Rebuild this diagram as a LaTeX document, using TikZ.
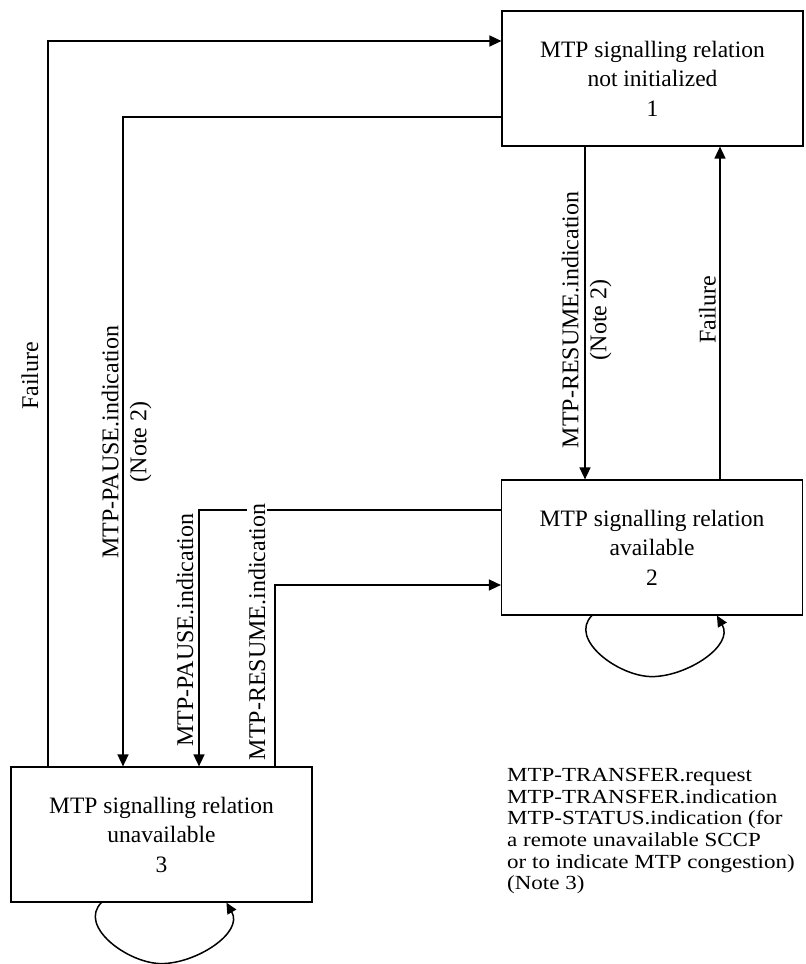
\documentclass[tikz,border=0pt]{standalone}
\usepackage{fontspec}
\setmainfont{Liberation Serif}
\newfontfamily\notefont[FakeStretch=1.15]{Liberation Serif}
\usepackage{tikz}
\usetikzlibrary{arrows.meta}
\tikzset{
    State/.style = {draw,line width=1.2pt,minimum width=301pt,minimum height=135pt,
        inner sep=0pt,align=center,font=\fontsize{23.5}{29.5}\selectfont},
    Label/.style = {rotate=90,align=center,inner sep=2pt,font=\fontsize{24}{28}\selectfont},
    Arrow/.style = {line width=1.5pt,-{Triangle[length=12pt,width=11pt]}},
    SelfLoop/.style = {line width=1.5pt,-{Triangle[length=11pt,width=10pt]}}
}

\begin{document}
\begin{tikzpicture}[x=1pt,y=1pt]
        \useasboundingbox (0,0) rectangle (806,964);
        \node[State] (Init) at (652.5,885.5) {MTP signalling relation\\not initialized\\1};
        \node[State] (Avail) at (652,416.5) {MTP signalling relation\\available\\2};
        \node[State] (Unavail) at (161.5,129.5) {MTP signalling relation\\unavailable\\3};
        \draw[Arrow] (Unavail.north -| 48,0) |- (Init.west |- 0,923);
        \draw[Arrow] (Init.west |- 0,847) -| (Unavail.north -| 123,0);
        \draw[Arrow] (Avail.west |- 0,454) -| (Unavail.north -| 199,0);
        \draw[Arrow] (Unavail.north -| 275,0) |- (Avail.west |- 0,379);
        \draw[Arrow] (Init.south -| 585,0) -- (Avail.north -| 585,0);
        \draw[Arrow] (Avail.north -| 720,0) -- (Init.south -| 720,0);
        \foreach \S in {Avail,Unavail}
            {\draw[SelfLoop] ([xshift=91pt]\S.south west) to[out=225,in=180]
                ([xshift=151pt,yshift=-61pt]\S.south west) to[out=0,in=-60]
                ([xshift=216pt]\S.south west);}
        \node[Label] (FailLeft) at (30,588) {Failure};
        \node[Label] (PauseNote) at (126.5,522) {MTP-PAUSE.indication\\(Note 2)};
        \node[Label] (Pause) at (185,334) {MTP-PAUSE.indication};
        \node[Label,fill=white] (Resume) at (257,332) {MTP-RESUME.indication};
        \node[Label] (ResumeNote) at (586.5,644) {MTP-RESUME.indication\\(Note 2)};
        \node[Label] (FailRight) at (707.5,654) {Failure};
        \node[anchor=north west,align=left,inner sep=0pt,font=\notefont\fontsize{20}{21.7}\selectfont]
            (Note) at (507,196) {MTP-TRANSFER.request\\MTP-TRANSFER.indication\\MTP-STATUS.indication (for\\a remote unavailable SCCP\\or to indicate MTP congestion)\\(Note 3)};
\end{tikzpicture}
\end{document}
